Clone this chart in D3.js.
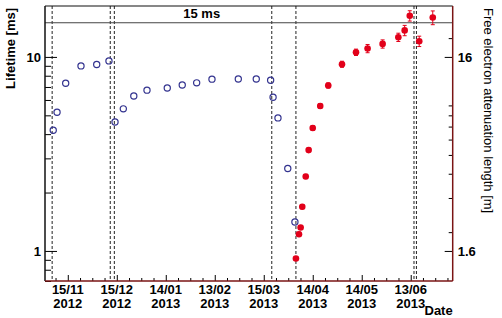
<!DOCTYPE html>
<html lang="en">
<head>
<meta charset="UTF-8">
<title>Lifetime vs date</title>
<style>
  body { margin: 0; background: #fff; overflow: hidden; }
  svg { display: block; font-family: "Liberation Sans", Arial, sans-serif; }
  .tick text { font-weight: bold; font-size: 13px; fill: #000; }
  .lbl { font-weight: bold; font-size: 13px; fill: #000; }
</style>
</head>
<body>
<svg id="chart" width="502" height="318"></svg>
<script src="https://d3js.org/d3.v7.min.js"></script>
<script>
// ---- data ----
const blueDates = [
  "2012-11-06 02", "2012-11-08 10", "2012-11-13 17", "2012-11-23 02", "2012-12-02 17",
  "2012-12-10 05", "2012-12-13 22", "2012-12-19 00", "2012-12-25 10", "2013-01-02 12",
  "2013-01-14 22", "2013-01-24 02", "2013-02-01 22", "2013-02-11 07", "2013-02-27 10",
  "2013-03-10 10", "2013-03-19 05", "2013-03-20 17", "2013-03-23 17", "2013-03-29 17",
  "2013-04-03 02"
];
const blueLifetime = [
  4.19, 5.19, 7.31, 8.99, 9.14,
  9.54, 4.62, 5.40, 6.29, 6.74,
  6.92, 7.17, 7.35, 7.68, 7.70,
  7.70, 7.58, 6.20, 4.85, 2.66,
  1.41
];

const redDates = [
  "2013-04-03 17", "2013-04-05 14", "2013-04-06 14", "2013-04-07 14", "2013-04-09 17",
  "2013-04-11 12", "2013-04-14 00", "2013-04-18 14", "2013-04-23 12", "2013-05-01 22",
  "2013-05-10 12", "2013-05-17 14", "2013-05-26 19", "2013-06-05 10", "2013-06-09 07",
  "2013-06-12 10", "2013-06-18 05", "2013-06-26 12"
];
const redLifetime = [
  0.914, 1.22, 1.32, 1.69, 2.42,
  3.31, 4.30, 5.59, 7.13, 9.17,
  10.57, 11.05, 11.67, 12.63, 13.7,
  16.3, 12.05, 15.96
];
const redError = [
  0.02, 0.03, 0.03, 0.04, 0.06,
  0.08, 0.12, 0.16, 0.22, 0.33,
  0.40, 0.54, 0.57, 0.62, 0.84,
  1.0, 0.74, 1.3
];

// dashed vertical markers
const markerDates = [
  "2012-11-05 10", "2012-12-11 00", "2012-12-13 12", "2013-03-19 22",
  "2013-04-03 17", "2013-06-15 00", "2013-06-16 12"
];

const tickDates = [
  "2012-11-15 00", "2012-12-15 00", "2013-01-14 00", "2013-02-13 00",
  "2013-03-15 00", "2013-04-14 00", "2013-05-14 00", "2013-06-13 00"
];
const tickLabels = [
  ["15/11", "2012"], ["15/12", "2012"], ["14/01", "2013"], ["13/02", "2013"],
  ["15/03", "2013"], ["14/04", "2013"], ["14/05", "2013"], ["13/06", "2013"]
];
const leftTicks = [1, 10];
const rightTicks = [1.6, 16];
const limitValue = 15;
const driftFactor = 1.6; // lifetime [ms] -> attenuation length [m]

// ---- layout ----
const svg = d3.select("#chart");
const margin = { top: 6, right: 49.3, bottom: 37, left: 45 };
const width = 502, height = 318;
const parse = d3.timeParse("%Y-%m-%d %H");
const DAY = 86400000;

const x = d3.scaleTime()
  .domain([parse("2012-11-01 01"), parse("2013-07-08 17")])
  .range([margin.left, width - margin.right]);
const y = d3.scaleLog()
  .domain([0.7, 18.3])
  .range([height - margin.bottom, margin.top]);
const y2 = d3.scaleLog()
  .domain(y.domain().map(d => d * driftFactor))
  .range(y.range());

const x0 = margin.left, x1 = width - margin.right;
const yb = height - margin.bottom, yt = margin.top;

const minorOf = (lo, hi) => {
  const out = [];
  for (let e = -1; e <= 1; e++) {
    for (let k = 2; k <= 9; k++) {
      const v = k * Math.pow(10, e);
      if (v > lo && v < hi) out.push(v);
    }
  }
  return out;
};

// dashed vertical lines
svg.append("g")
  .selectAll("line")
  .data(markerDates)
  .join("line")
  .attr("x1", d => x(parse(d)))
  .attr("x2", d => x(parse(d)))
  .attr("y1", yt)
  .attr("y2", yb)
  .attr("stroke", "#222")
  .attr("stroke-width", 1)
  .attr("stroke-dasharray", "3,2");

// 15 ms line
svg.append("line")
  .attr("x1", x0).attr("x2", x1)
  .attr("y1", y(limitValue)).attr("y2", y(limitValue))
  .attr("stroke", "#444").attr("stroke-width", 1);
svg.append("text")
  .attr("class", "lbl")
  .attr("x", x(parse("2013-02-05 00")))
  .attr("y", y(limitValue) - 4.5)
  .attr("text-anchor", "middle")
  .text("15 ms");

// left axis
const leftG = svg.append("g").attr("transform", `translate(${x0},0)`);
leftG.call(d3.axisLeft(y).tickValues(leftTicks).tickSize(-12).tickPadding(4).tickFormat(d3.format("d")));
leftG.append("g").call(d3.axisLeft(y).tickValues(minorOf(...y.domain())).tickSize(-6).tickFormat(""));
leftG.selectAll(".domain").remove();
leftG.attr("font-size", null).attr("font-family", null);

// right axis
const rightG = svg.append("g").attr("transform", `translate(${x1},0)`);
rightG.call(d3.axisRight(y2).tickValues(rightTicks).tickSize(-8).tickPadding(5).tickFormat(d3.format("~g")));
rightG.append("g").call(d3.axisRight(y2).tickValues(minorOf(...y2.domain())).tickSize(-4).tickFormat(""));
rightG.selectAll(".domain").remove();
rightG.attr("font-size", null).attr("font-family", null);

// bottom axis
const majorDates = tickDates.map(parse);
const step = 7.5 * DAY;
const minorDates = [];
for (let t = +majorDates[0] - 4 * step; t < +x.domain()[1]; t += step) {
  const isMajor = majorDates.some(m => Math.abs(+m - t) < 1000);
  if (!isMajor && t > +x.domain()[0]) minorDates.push(new Date(t));
}
const botG = svg.append("g").attr("transform", `translate(0,${yb})`);
botG.call(d3.axisBottom(x).tickValues(majorDates).tickSize(-6).tickFormat(""));
botG.append("g").call(d3.axisBottom(x).tickValues(minorDates).tickSize(-3).tickFormat(""));
botG.selectAll(".domain").remove();

const lab = svg.append("g");
tickDates.forEach((d, i) => {
  const t = lab.append("text")
    .attr("class", "lbl")
    .attr("text-anchor", "middle")
    .attr("x", x(parse(d)))
    .attr("y", yb + 12.5);
  t.append("tspan").attr("x", x(parse(d))).text(tickLabels[i][0]);
  t.append("tspan").attr("x", x(parse(d))).attr("dy", 14).text(tickLabels[i][1]);
});

// frame
svg.append("line").attr("x1", x0).attr("x2", x1).attr("y1", yt).attr("y2", yt)
  .attr("stroke", "#111").attr("stroke-width", 1.2);
svg.append("line").attr("x1", x0).attr("x2", x0).attr("y1", yt).attr("y2", yb)
  .attr("stroke", "#111").attr("stroke-width", 1.5);
svg.append("line").attr("x1", x0).attr("x2", x1).attr("y1", yb).attr("y2", yb)
  .attr("stroke", "#7a1414").attr("stroke-width", 1.5);
svg.append("line").attr("x1", x1).attr("x2", x1).attr("y1", yt).attr("y2", yb)
  .attr("stroke", "#7a1414").attr("stroke-width", 1.5);

// blue open circles
svg.append("g")
  .selectAll("circle")
  .data(blueDates.map((d, i) => ({ t: parse(d), v: blueLifetime[i] })))
  .join("circle")
  .attr("cx", d => x(d.t))
  .attr("cy", d => y(d.v))
  .attr("r", 3.1)
  .attr("fill", "none")
  .attr("stroke", "#33338f")
  .attr("stroke-width", 1.2);

// red points with error bars
const red = redDates.map((d, i) => ({ t: parse(d), v: redLifetime[i], e: redError[i] }));
const errG = svg.append("g").attr("stroke", "#e2001a").attr("stroke-width", 1);
errG.selectAll("line.bar")
  .data(red)
  .join("line")
  .attr("class", "bar")
  .attr("x1", d => x(d.t)).attr("x2", d => x(d.t))
  .attr("y1", d => y(d.v - d.e)).attr("y2", d => y(d.v + d.e));
errG.selectAll("line.capHi")
  .data(red)
  .join("line")
  .attr("class", "capHi")
  .attr("x1", d => x(d.t) - 2).attr("x2", d => x(d.t) + 2)
  .attr("y1", d => y(d.v + d.e)).attr("y2", d => y(d.v + d.e));
errG.selectAll("line.capLo")
  .data(red)
  .join("line")
  .attr("class", "capLo")
  .attr("x1", d => x(d.t) - 2).attr("x2", d => x(d.t) + 2)
  .attr("y1", d => y(d.v - d.e)).attr("y2", d => y(d.v - d.e));
svg.append("g")
  .selectAll("circle")
  .data(red)
  .join("circle")
  .attr("cx", d => x(d.t))
  .attr("cy", d => y(d.v))
  .attr("r", 3.3)
  .attr("fill", "#e2001a");

// titles
svg.append("text")
  .attr("class", "lbl")
  .attr("transform", `translate(15,${yt + 2}) rotate(-90)`)
  .attr("text-anchor", "end")
  .text("Lifetime [ms]");
svg.append("text")
  .attr("transform", `translate(484,${yt + 2}) rotate(90)`)
  .attr("font-size", 13)
  .attr("fill", "#000")
  .text("Free electron attenuation length [m]");
svg.append("text")
  .attr("class", "lbl")
  .attr("x", x1)
  .attr("y", 315)
  .attr("text-anchor", "end")
  .text("Date");
</script>
</body>
</html>
